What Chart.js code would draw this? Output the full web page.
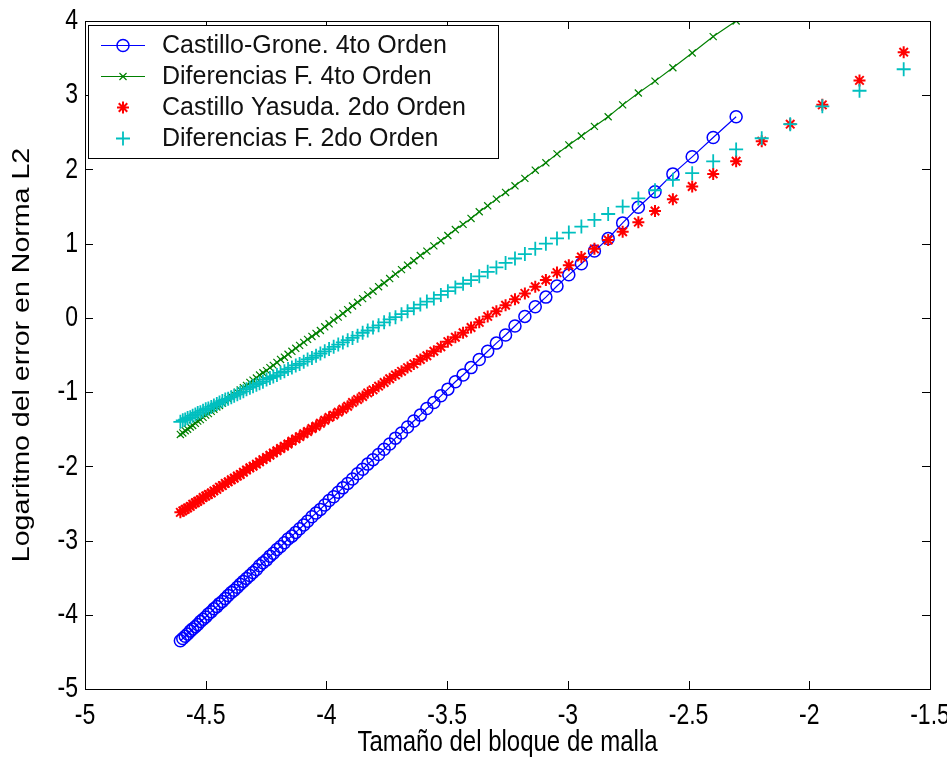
<!DOCTYPE html>
<html>
<head>
<meta charset="utf-8">
<title>Logaritmo del error</title>
<script src="https://cdn.jsdelivr.net/npm/chart.js@4.4.0/dist/chart.umd.min.js"></script>
<style>
  html, body { margin: 0; padding: 0; background: #fff; }
  #wrap { width: 947px; height: 757px; }
</style>
</head>
<body>
<div id="wrap"><canvas id="chart" width="947" height="757"></canvas></div>
<script>
// log of mesh size: coarse meshes (only the 2nd order runs) and the shared fine ones
const xCoarse = [-1.609, -1.792, -1.946, -2.079, -2.197];
const xFine = [
  -2.303, -2.398, -2.485, -2.565, -2.639, -2.708, -2.773, -2.833, -2.890, -2.944,
  -2.996, -3.045, -3.091, -3.135, -3.178, -3.219, -3.258, -3.296, -3.332, -3.367,
  -3.401, -3.434, -3.466, -3.497, -3.526, -3.555, -3.584, -3.611, -3.638, -3.664,
  -3.689, -3.714, -3.738, -3.761, -3.784, -3.807, -3.829, -3.850, -3.871, -3.892,
  -3.912, -3.932, -3.951, -3.970, -3.989, -4.007, -4.025, -4.043, -4.060, -4.078,
  -4.094, -4.111, -4.127, -4.143, -4.159, -4.174, -4.190, -4.205, -4.220, -4.234,
  -4.248, -4.263, -4.277, -4.290, -4.304, -4.317, -4.331, -4.344, -4.357, -4.369,
  -4.382, -4.394, -4.407, -4.419, -4.431, -4.443, -4.454, -4.466, -4.477, -4.489,
  -4.500, -4.511, -4.522, -4.533, -4.543, -4.554, -4.564, -4.575, -4.585, -4.595, -4.605
];

// Castillo-Grone, 4to orden (fine meshes only)
const yCastilloGrone = [
  2.71, 2.43, 2.17, 1.94, 1.70, 1.49, 1.28, 1.07, 0.90, 0.73,
  0.58, 0.43, 0.28, 0.15, 0.02, -0.11, -0.23, -0.34, -0.45, -0.56,
  -0.67, -0.77, -0.86, -0.96, -1.05, -1.14, -1.22, -1.31, -1.39, -1.47,
  -1.55, -1.62, -1.70, -1.77, -1.84, -1.91, -1.97, -2.04, -2.10, -2.17,
  -2.23, -2.29, -2.35, -2.41, -2.46, -2.52, -2.58, -2.63, -2.68, -2.74,
  -2.79, -2.84, -2.89, -2.94, -2.98, -3.03, -3.08, -3.12, -3.17, -3.21,
  -3.26, -3.30, -3.34, -3.39, -3.43, -3.47, -3.51, -3.55, -3.59, -3.63,
  -3.67, -3.70, -3.74, -3.78, -3.82, -3.85, -3.89, -3.92, -3.96, -3.99,
  -4.03, -4.06, -4.09, -4.13, -4.16, -4.19, -4.22, -4.26, -4.29, -4.32, -4.35
];

// Diferencias finitas, 4to orden (fine meshes only)
const yDifF4 = [
  4.00, 3.79, 3.57, 3.37, 3.19, 3.03, 2.87, 2.71, 2.58, 2.45,
  2.33, 2.21, 2.09, 1.99, 1.88, 1.78, 1.69, 1.60, 1.51, 1.43,
  1.34, 1.26, 1.19, 1.11, 1.04, 0.97, 0.90, 0.84, 0.77, 0.71,
  0.65, 0.59, 0.53, 0.47, 0.42, 0.36, 0.31, 0.26, 0.21, 0.16,
  0.11, 0.06, 0.01, -0.03, -0.08, -0.12, -0.17, -0.21, -0.25, -0.29,
  -0.33, -0.37, -0.41, -0.45, -0.49, -0.53, -0.56, -0.60, -0.64, -0.67,
  -0.71, -0.74, -0.77, -0.81, -0.84, -0.87, -0.91, -0.94, -0.97, -1.00,
  -1.03, -1.06, -1.09, -1.12, -1.15, -1.18, -1.20, -1.23, -1.26, -1.29,
  -1.31, -1.34, -1.37, -1.39, -1.42, -1.45, -1.47, -1.50, -1.52, -1.55, -1.57
];

// Castillo Yasuda, 2do orden (coarse + fine meshes)
const yCastilloYasuda = [
  3.58, 3.20, 2.87, 2.61, 2.38,
  2.11, 1.94, 1.77, 1.60, 1.44, 1.29, 1.16, 1.05, 0.93, 0.82,
  0.71, 0.61, 0.51, 0.42, 0.33, 0.25, 0.17, 0.09, 0.02, -0.06,
  -0.13, -0.20, -0.26, -0.32, -0.39, -0.45, -0.51, -0.56, -0.62, -0.67,
  -0.72, -0.77, -0.82, -0.87, -0.92, -0.97, -1.01, -1.06, -1.10, -1.14,
  -1.19, -1.23, -1.27, -1.31, -1.34, -1.38, -1.42, -1.46, -1.49, -1.53,
  -1.56, -1.60, -1.63, -1.66, -1.70, -1.73, -1.76, -1.79, -1.82, -1.85,
  -1.88, -1.91, -1.94, -1.97, -2.00, -2.02, -2.05, -2.08, -2.11, -2.13,
  -2.16, -2.18, -2.21, -2.23, -2.26, -2.28, -2.31, -2.33, -2.36, -2.38,
  -2.40, -2.42, -2.45, -2.47, -2.49, -2.51, -2.54, -2.56, -2.58, -2.60, -2.62
];

// Diferencias finitas, 2do orden (coarse + fine meshes)
const yDifF2 = [
  3.35, 3.06, 2.85, 2.61, 2.42,
  2.27, 2.11, 1.95, 1.86, 1.72, 1.61, 1.50, 1.40, 1.32, 1.23,
  1.15, 1.07, 1.00, 0.93, 0.86, 0.80, 0.74, 0.68, 0.62, 0.56,
  0.51, 0.46, 0.41, 0.36, 0.31, 0.26, 0.22, 0.18, 0.13, 0.09,
  0.05, 0.01, -0.02, -0.06, -0.10, -0.13, -0.17, -0.20, -0.24, -0.27,
  -0.30, -0.33, -0.36, -0.39, -0.42, -0.45, -0.48, -0.51, -0.54, -0.56,
  -0.59, -0.62, -0.64, -0.67, -0.69, -0.72, -0.74, -0.77, -0.79, -0.81,
  -0.83, -0.86, -0.88, -0.90, -0.92, -0.94, -0.96, -0.99, -1.01, -1.03,
  -1.05, -1.07, -1.09, -1.10, -1.12, -1.14, -1.16, -1.18, -1.20, -1.22,
  -1.23, -1.25, -1.27, -1.28, -1.30, -1.32, -1.34, -1.35, -1.37, -1.38, -1.40
];

const xTicks = [-5, -4.5, -4, -3.5, -3, -2.5, -2, -1.5];
const yTicks = [-5, -4, -3, -2, -1, 0, 1, 2, 3, 4];
const seriesNames = [
  'Castillo-Grone. 4to Orden',
  'Diferencias F. 4to Orden',
  'Castillo Yasuda. 2do Orden',
  'Diferencias F. 2do Orden'
];
const xTitle = 'Tamaño del bloque de malla';
const yTitle = 'Logaritmo del error en Norma L2';

const xAll = xCoarse.concat(xFine);
const toPoints = (xs, ys) => xs.map((x, i) => ({ x: x, y: ys[i] }));

const TICK_FONT = "23px 'Liberation Sans', Arial, sans-serif";
const TITLE_FONT = "24px 'Liberation Sans', Arial, sans-serif";
const TICK_LEN = 8;

// the original figure is stretched vertically, so its text is taller than wide
function tallText(ctx, text, x, y, align, vertical, stretch) {
  ctx.save();
  ctx.translate(x, y);
  if (vertical) {
    ctx.rotate(-Math.PI / 2);
    ctx.scale(stretch, 1);
  } else {
    ctx.scale(1, stretch);
  }
  ctx.textAlign = align;
  ctx.textBaseline = 'middle';
  ctx.fillText(text, 0, 0);
  ctx.restore();
}

// MATLAB style frame, inward ticks on all four sides, labels and boxed legend
const matlabFrame = {
  id: 'matlabFrame',
  afterDraw(chart) {
    const ctx = chart.ctx;
    const a = chart.chartArea;
    const sx = chart.scales.x, sy = chart.scales.y;
    ctx.save();
    ctx.strokeStyle = '#000';
    ctx.lineWidth = 1;
    ctx.strokeRect(a.left + 0.5, a.top + 0.5, a.right - a.left, a.bottom - a.top);
    ctx.beginPath();
    xTicks.forEach(v => {
      const p = Math.round(sx.getPixelForValue(v)) + 0.5;
      ctx.moveTo(p, a.bottom); ctx.lineTo(p, a.bottom - TICK_LEN);
      ctx.moveTo(p, a.top); ctx.lineTo(p, a.top + TICK_LEN);
    });
    yTicks.forEach(v => {
      const p = Math.round(sy.getPixelForValue(v)) + 0.5;
      ctx.moveTo(a.left, p); ctx.lineTo(a.left + TICK_LEN, p);
      ctx.moveTo(a.right, p); ctx.lineTo(a.right - TICK_LEN, p);
    });
    ctx.stroke();

    // tick labels and axis titles
    ctx.fillStyle = '#000';
    ctx.font = TICK_FONT;
    xTicks.forEach(v => tallText(ctx, String(v), sx.getPixelForValue(v), a.bottom + 27, 'center', false, 1.3));
    yTicks.forEach(v => tallText(ctx, String(v), a.left - 7, sy.getPixelForValue(v), 'right', false, 1.3));
    ctx.font = TITLE_FONT;
    tallText(ctx, xTitle, (a.left + a.right) / 2, a.bottom + 54, 'center', false, 1.25);
    tallText(ctx, yTitle, 22, (a.top + a.bottom) / 2, 'center', true, 1.19);

    // legend box
    const lx = Math.round(a.left) + 3, ly = Math.round(a.top) + 4, lw = 410, lh = 133;
    ctx.fillStyle = '#fff';
    ctx.fillRect(lx, ly, lw, lh);
    ctx.strokeStyle = '#000';
    ctx.lineWidth = 1;
    ctx.strokeRect(lx + 0.5, ly + 0.5, lw, lh);
    ctx.font = "25px 'Liberation Sans', Arial, sans-serif";
    ctx.textBaseline = 'middle';
    ctx.textAlign = 'left';
    chart.data.datasets.forEach((ds, i) => {
      const cy = ly + 20 + i * 31;
      ctx.strokeStyle = ds.borderColor;
      ctx.lineWidth = 1;
      if (ds.showLine) {
        ctx.beginPath();
        ctx.moveTo(lx + 13, cy + 0.5); ctx.lineTo(lx + 57, cy + 0.5);
        ctx.stroke();
      }
      ctx.fillStyle = 'rgba(0,0,0,0)';
      ctx.lineWidth = ds.pointBorderWidth;
      Chart.helpers.drawPoint(ctx, {
        pointStyle: ds.pointStyle, radius: ds.pointRadius,
        borderWidth: ds.pointBorderWidth, rotation: 0
      }, lx + 35, cy + 0.5);
      ctx.fillStyle = '#111';
      ctx.fillText(seriesNames[i], lx + 74, cy + 1);
    });
    ctx.restore();
  }
};

new Chart(document.getElementById('chart'), {
  type: 'scatter',
  data: {
    datasets: [
      {
        label: seriesNames[0], data: toPoints(xFine, yCastilloGrone), showLine: true,
        borderColor: '#0000ff', borderWidth: 1.2, backgroundColor: 'rgba(0,0,0,0)',
        pointStyle: 'circle', pointRadius: 6, pointBorderWidth: 1.5,
        pointBorderColor: '#0000ff', pointBackgroundColor: 'rgba(0,0,0,0)', order: 4
      },
      {
        label: seriesNames[1], data: toPoints(xFine, yDifF4), showLine: true,
        borderColor: '#008000', borderWidth: 1.2, backgroundColor: 'rgba(0,0,0,0)',
        pointStyle: 'crossRot', pointRadius: 5, pointBorderWidth: 1.2,
        pointBorderColor: '#008000', order: 3
      },
      {
        label: seriesNames[2], data: toPoints(xAll, yCastilloYasuda), showLine: false,
        borderColor: '#ff0000', backgroundColor: 'rgba(0,0,0,0)',
        pointStyle: 'star', pointRadius: 6, pointBorderWidth: 2,
        pointBorderColor: '#ff0000', order: 2
      },
      {
        label: seriesNames[3], data: toPoints(xAll, yDifF2), showLine: false,
        borderColor: '#00bfbf', backgroundColor: 'rgba(0,0,0,0)',
        pointStyle: 'cross', pointRadius: 7, pointBorderWidth: 1.8,
        pointBorderColor: '#00bfbf', order: 1
      }
    ]
  },
  options: {
    responsive: false,
    animation: false,
    events: [],
    layout: { padding: { top: 21, right: 17, left: 0, bottom: 0 } },
    plugins: {
      legend: { display: false },
      tooltip: { enabled: false }
    },
    scales: {
      x: {
        type: 'linear', min: -5, max: -1.5,
        afterBuildTicks: s => { s.ticks = xTicks.map(v => ({ value: v })); },
        afterFit: s => { s.height = 68; },
        grid: { display: false, drawTicks: false },
        border: { display: false },
        ticks: { display: false }
      },
      y: {
        type: 'linear', min: -5, max: 4,
        afterBuildTicks: s => { s.ticks = yTicks.map(v => ({ value: v })); },
        afterFit: s => { s.width = 85; },
        grid: { display: false, drawTicks: false },
        border: { display: false },
        ticks: { display: false }
      }
    }
  },
  plugins: [matlabFrame]
});
</script>
</body>
</html>
